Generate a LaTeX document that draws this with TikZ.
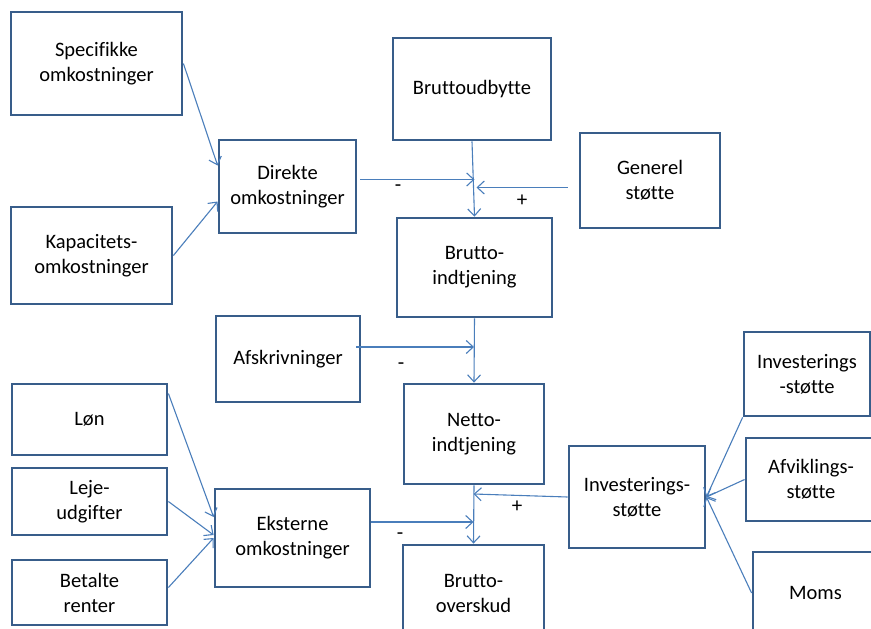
\documentclass[tikz,border=0pt]{standalone}
\usepackage{fontspec}
\setmainfont{Carlito}[Ligatures=NoCommon]
\usetikzlibrary{arrows.meta}
\definecolor{boxblue}{HTML}{385D8A}
\definecolor{linkblue}{HTML}{4A7EBB}

\begin{document}
\begin{tikzpicture}
            [
            x=1pt, y=-1pt,
            box/.style={draw=boxblue,line width=2.8pt,align=center,inner sep=0pt,
              font=\fontsize{20.5}{25}\selectfont},
            link/.style={draw=linkblue,line width=1.1pt,-{Straight Barb[length=7pt,width=13pt]}},
            sign/.style={font=\fontsize{21}{21}\selectfont}
            ]
        \useasboundingbox (0,0) rectangle (871,629);
        \clip (0,0) rectangle (871,629);
        % upper part
        \node[box,minimum width=171pt,minimum height=103pt] (spec) at (96.5,63.5) {Specifikke\\omkostninger};
        \node[box,minimum width=161pt,minimum height=97pt] (kap) at (91.5,255.5) {Kapacitets-\\omkostninger};
        \node[box,minimum width=137pt,minimum height=93pt] (dir) at (287.5,186.5) {Direkte\\omkostninger};
        \node[box,minimum width=158pt,minimum height=102pt] (bu) at (472,89) {Bruttoudbytte};
        \node[box,minimum width=140pt,minimum height=95pt] (gen) at (650,180.5) {Generel\\støtte};
        \node[box,minimum width=155pt,minimum height=99pt] (bi) at (474.5,267.5) {Brutto-\\indtjening};
        \node[box,minimum width=144pt,minimum height=86pt] (afs) at (288,359) {Afskrivninger};
        \node[box,minimum width=140pt,minimum height=100pt] (ni) at (474,434) {Netto-\\indtjening};
        % lower part
        \node[box,minimum width=155pt,minimum height=71pt] (lon) at (89.5,419.5) {Løn};
        \node[box,minimum width=155pt,minimum height=67pt] (leje) at (89.5,501.5) {Leje-\\udgifter};
        \node[box,minimum width=155pt,minimum height=65pt] (bet) at (89.5,592.5) {Betalte\\renter};
        \node[box,minimum width=155pt,minimum height=98pt] (eks) at (292.5,538) {Eksterne\\omkostninger};
        \node[box,minimum width=141pt,minimum height=96pt] (bo) at (473.5,593) {Brutto-\\overskud};
        \node[box,minimum width=136pt,minimum height=102pt] (inv) at (637,497) {Investerings-\\støtte};
        \node[box,minimum width=126pt,minimum height=84pt] (invr) at (807,374) {Investerings\\-støtte};
        \node[box,minimum width=130pt,minimum height=83pt] (afv) at (811,479.5) {Afviklings-\\støtte};
        \node[box,minimum width=125pt,minimum height=82pt] (moms) at (815.5,593) {Moms};
        % connectors
        \draw[link] (spec.east) -- ([yshift=21pt]dir.west);
        \draw[link] (kap.east) -- ([yshift=-15pt]dir.west);
        \draw[link] (bu.south) -- (bi.north);
        \draw[link] ([xshift=3pt,yshift=7pt]dir.east) -- ([yshift=7pt]dir.east -| bi.north);
        \draw[link] ([xshift=-11pt,yshift=-7pt]gen.west) -- ([xshift=2pt,yshift=-7pt]gen.west -| bi.north);
        \draw[link] (bi.south) -- (ni.north);
        \draw[link] ([xshift=-5pt,yshift=12pt]afs.east) -- ([yshift=12pt]afs.east -| ni.north);
        \draw[link] (ni.south) -- (bo.north);
        \draw[link] (inv.west) -- ([yshift=3pt]inv.west -| bo.north);
        \draw[link] ([yshift=16pt]eks.east) -- ([yshift=16pt]eks.east -| bo.north);
        \draw[link] ([yshift=26pt]lon.east) -- ([yshift=21pt]eks.west);
        \draw[link] (leje.east) -- ([yshift=3pt]eks.west);
        \draw[link] ([yshift=5pt]bet.east) -- ([yshift=0pt]eks.west);
        \draw[link] (invr.south west) -- (inv.east);
        \draw[link] ([yshift=0pt]afv.west) -- (inv.east);
        \draw[link] (moms.west) -- (inv.east);
        % signs
        \node[sign] (m1) at (398,188) {-};
        \node[sign] (p1) at (522,201) {+};
        \node[sign] (m2) at (401,366) {-};
        \node[sign] (p2) at (517,507) {+};
        \node[sign] (m3) at (400,536) {-};
        \end{tikzpicture}
\end{document}
